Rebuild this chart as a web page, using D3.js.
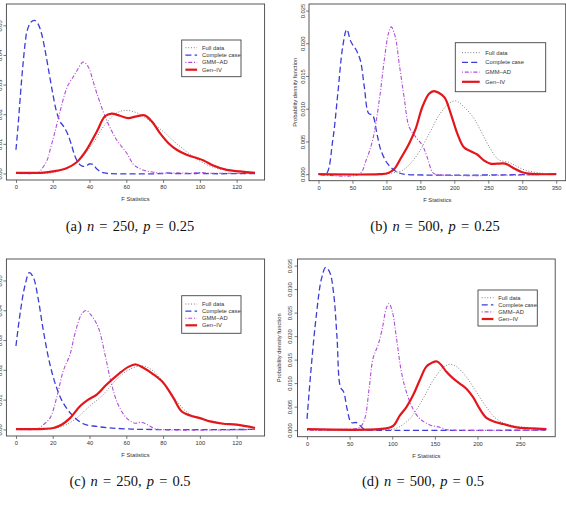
<!DOCTYPE html>
<html>
<head>
<meta charset="utf-8">
<script src="https://cdn.jsdelivr.net/npm/d3@7"></script>
<style>
  body { margin: 0; background: #fff; }
  svg { display: block; }
  .sans { font-family: "Liberation Sans", Arial, sans-serif; }
</style>
</head>
<body>
<svg id="fig" width="566" height="531"></svg>
<script>
// legend labels
const seriesNames = ["Full data", "Complete case", "GMM\u2212AD", "Gen\u2212IV"];

// ---- (a) n = 250, p = 0.25 : [F statistic, density]
const fullA = [[0,0],[10,0.0001],[20,0.0003],[25,0.0012],[30,0.0025],[35,0.0048],[42,0.0103],[49,0.017],[55,0.0205],[60,0.0213],[66,0.0204],[73,0.0176],[80,0.0142],[87,0.0103],[95,0.0063],[102,0.0035],[109,0.0018],[118,0.0009],[130,0.0003]];
const ccA = [[0,0.008],[1,0.015],[2,0.023],[3,0.031],[4,0.038],[5,0.044],[6,0.048],[8,0.051],[10,0.0517],[12,0.0505],[14,0.047],[16,0.041],[18,0.034],[20,0.027],[22,0.021],[24,0.0175],[26,0.0158],[28,0.0135],[30,0.010],[32,0.006],[34,0.0035],[36,0.0025],[38,0.0025],[40,0.0032],[42,0.003],[44,0.0015],[46,0.0006],[48,0.0002],[50,0],[80,0],[82,0.0002],[85,0],[98,0],[100,0.0002],[102,0],[130,0]];
const gmmA = [[0,0],[10,0],[12,0.0002],[14,0.0015],[17,0.0046],[19,0.009],[21,0.0136],[24,0.021],[26.6,0.027],[28.5,0.030],[31,0.0325],[33,0.0345],[36.6,0.0376],[39.3,0.036],[42,0.031],[44,0.027],[49.3,0.018],[54.7,0.0114],[60.2,0.0069],[64,0.003],[69,0.0012],[75,0.0004],[80,0.0001],[88,0.0002],[95,0.0001],[100,0.0003],[105,0.0001],[130,0.0001]];
const genA = [[0,0.0002],[10,0.0002],[15,0.0003],[20,0.0007],[27.5,0.0018],[33,0.0038],[38.4,0.008],[44,0.0142],[48.4,0.0193],[52,0.0202],[56.5,0.0195],[61,0.0187],[65.6,0.0193],[70,0.0196],[73.8,0.0176],[78.3,0.0136],[82.8,0.0103],[87.4,0.008],[92.8,0.0063],[98.2,0.0052],[102,0.0044],[107.3,0.0027],[114.6,0.0012],[121.8,0.0007],[130,0.0002]];

// ---- (b) n = 500, p = 0.25
const fullB = [[0,0],[100,0],[110,0.0002],[124,0.0006],[143,0.0026],[163,0.0062],[177.5,0.009],[192,0.0108],[202,0.0112],[214,0.0103],[229,0.0085],[241,0.0062],[253,0.0039],[265.5,0.0022],[280,0.0018],[290,0.0013],[304.6,0.0006],[324,0.0002],[350,0]];
const ccB = [[0,0],[11,0],[21,0.0052],[28.4,0.0123],[35.7,0.0195],[41.6,0.0221],[47.9,0.0202],[55.3,0.019],[61.6,0.0174],[67.5,0.0133],[73.8,0.0093],[79.7,0.009],[86,0.0062],[92,0.0036],[101.7,0.0016],[111.5,0.0006],[119,0.0002],[125,0],[350,0]];
const gmmB = [[0,0],[60,0],[70,0.0021],[79.7,0.0052],[89.5,0.0113],[96.8,0.0174],[103,0.0215],[107,0.0225],[113,0.021],[118.8,0.0169],[126,0.0118],[133.5,0.0072],[143,0.0057],[153,0.0044],[160,0.0026],[167.7,0.0003],[172,0],[350,0]];
const genB = [[0,0],[90,0],[101.7,0.00015],[111.5,0.0008],[121,0.0024],[133.5,0.0047],[143.3,0.007],[153,0.0103],[162.8,0.0123],[170,0.0127],[177.5,0.0124],[185.8,0.0117],[194.6,0.0093],[204.4,0.0062],[214,0.0041],[224,0.0035],[233.7,0.003],[243.5,0.0021],[253,0.0016],[263,0.0016],[275,0.0016],[287.5,0.0009],[300,0.0003],[314,0.00005],[350,0]];

// ---- (c) n = 250, p = 0.5
const fullC = [[0,0],[10,0.0001],[20,0.0003],[27,0.0015],[33,0.0038],[40,0.0078],[47.5,0.0117],[54.7,0.0168],[62,0.0202],[69,0.0213],[74.7,0.0196],[81,0.0151],[87.4,0.0095],[93.7,0.0055],[100,0.0038],[109,0.0025],[118,0.0016],[130,0.0007]];
const ccC = [[0,0.028],[2.2,0.0387],[4.9,0.0483],[7.25,0.0526],[9.4,0.0511],[12.1,0.0438],[14.9,0.0331],[18.5,0.0218],[22.1,0.014],[25.7,0.0089],[30.3,0.005],[36.6,0.0019],[44,0.001],[51,0.0005],[60,0.0002],[70,0],[130,0]];
const gmmC = [[0,0],[10,0],[12,0.0003],[14.9,0.0016],[18.5,0.0038],[22.1,0.0106],[25.7,0.0196],[29.4,0.0252],[32,0.032],[35.7,0.0387],[38.1,0.0399],[41.1,0.0382],[44.8,0.0342],[48.4,0.0252],[52,0.0151],[55.6,0.0083],[60.2,0.0038],[64.7,0.0021],[68.3,0.0024],[72,0.0014],[74.7,0.0005],[78,0],[130,0]];
const genC = [[0,0.0001],[10,0.0001],[15,0.0002],[20.3,0.0005],[24.8,0.0016],[29.4,0.0038],[34.8,0.0078],[39.3,0.01],[43.9,0.0117],[49.3,0.0151],[55.6,0.0185],[61.1,0.021],[65.3,0.0218],[69.2,0.0207],[74.7,0.0185],[80.1,0.0157],[85.6,0.0106],[90,0.0061],[94.6,0.0047],[100,0.0038],[105.5,0.0027],[112.7,0.0019],[120,0.0016],[130,0.0005]];

// ---- (d) n = 500, p = 0.5
const fullD = [[0,0],[95,0.0001],[105,0.0004],[120.5,0.0024],[136.2,0.0067],[148,0.0106],[159.6,0.0133],[167.5,0.014],[175.3,0.0135],[187,0.0113],[198.7,0.0081],[210.5,0.0049],[222.2,0.0024],[234,0.0013],[249.6,0.0007],[269,0.0004],[280,0.0002]];
const ccD = [[0,0.0024],[5.1,0.0138],[11,0.0246],[16.8,0.0321],[21.9,0.0346],[26.6,0.0336],[31.3,0.0289],[35.2,0.0196],[39.1,0.0092],[43,0.0081],[47,0.0045],[52,0.0016],[58,0.0016],[62.6,0.0009],[67.7,0.0001],[75,0],[280,0]];
const gmmD = [[0,0],[30,0],[40,0.0002],[50,0.0002],[62,0.0006],[67.7,0.0024],[72.8,0.0088],[77.5,0.0153],[83.3,0.0181],[88.4,0.0217],[93.1,0.026],[96.2,0.0269],[100,0.0253],[104.9,0.0196],[110.7,0.0124],[116.6,0.0081],[124.4,0.0045],[132,0.0025],[144,0.0011],[155.7,0.0006],[163.5,0.0001],[170,0],[280,0]];
const genD = [[0,0.0002],[90,0.0003],[101,0.0009],[108.8,0.0031],[116.6,0.0049],[124.4,0.0074],[132.2,0.0106],[140,0.0135],[147.1,0.0144],[152.6,0.0146],[157.7,0.0138],[163.5,0.0124],[171.4,0.011],[179.2,0.0099],[187,0.0088],[194.8,0.007],[202.7,0.0045],[210.5,0.0026],[218.3,0.0019],[230,0.0013],[245.7,0.0006],[261,0.0004],[281,0.0002]];

// tick values
const xTicksAC = [0, 20, 40, 60, 80, 100, 120];
const xTicksB = [0, 50, 100, 150, 200, 250, 300, 350];
const xTicksD = [0, 50, 100, 150, 200, 250];
const yTicksAC = [0, 0.01, 0.02, 0.03, 0.04, 0.05];
const yTicksB = [0, 0.005, 0.010, 0.015, 0.020, 0.025];
const yTicksD = [0, 0.005, 0.010, 0.015, 0.020, 0.025, 0.030, 0.035];

const captions = [
  ["(a) ", "n", " = 250, ", "p", " = 0.25"],
  ["(b) ", "n", " = 500, ", "p", " = 0.25"],
  ["(c) ", "n", " = 250, ", "p", " = 0.5"],
  ["(d) ", "n", " = 500, ", "p", " = 0.5"]
];

// line styles, same order as seriesNames
const styles = [
  {color: "#707070", width: 0.9, dash: "1,1.8"},
  {color: "#3c3cd8", width: 1.3, dash: "6,3.2"},
  {color: "#b04ed8", width: 1.1, dash: "1,1.8,4,1.8"},
  {color: "#e3161b", width: 2.2, dash: null}
];

const panels = [
  {series: [fullA, ccA, gmmA, genA], x0: 6.4, y0: 4, w: 258.2, h: 176, xlim: [0,130], ylim: [0,0.055],
   xt: xTicksAC, yt: yTicksAC, yf: ".2f", tl: -4.6, yl: -12,
   leg: {x: 175.3, y: 36, w: 59.3, h: 36.7, r0: 7.7, dy: 7.33, s0: 3.7, s1: 15.4, tx: 20.3},
   cap: {x: 130, y: 231}},
  {series: [fullB, ccB, gmmB, genB], x0: 309, y0: 4, w: 256.7, h: 176.7, xlim: [0,350], ylim: [0,0.025],
   xt: xTicksB, yt: yTicksB, yf: ".3f", tl: -4.4, yl: -12,
   leg: {x: 146.3, y: 38.7, w: 90.4, h: 49, r0: 10, dy: 9.7, s0: 6.7, s1: 24.4, tx: 30},
   cap: {x: 435, y: 231}},
  {series: [fullC, ccC, gmmC, genC], x0: 6.4, y0: 259, w: 258.2, h: 177, xlim: [0,130], ylim: [0,0.055],
   xt: xTicksAC, yt: yTicksAC, yf: ".2f", tl: -4.6, yl: -12,
   leg: {x: 175.3, y: 36.7, w: 59.3, h: 37.6, r0: 8.3, dy: 7.1, s0: 3.7, s1: 15.4, tx: 20.3},
   cap: {x: 130, y: 486}},
  {series: [fullD, ccD, gmmD, genD], x0: 297.5, y0: 259, w: 257.7, h: 177.7, xlim: [0,280], ylim: [0,0.035],
   xt: xTicksD, yt: yTicksD, yf: ".3f", tl: -5.6, yl: -16.5,
   leg: {x: 180.5, y: 31, w: 59.3, h: 36, r0: 7.7, dy: 7.1, s0: 3.7, s1: 15.4, tx: 20.3},
   cap: {x: 423, y: 486}}
];

const svg = d3.select("#fig");
const fs = 5.8;

// R-style range: limits padded by 4% each side
function padded(lim) {
  const d = (lim[1] - lim[0]) * 0.04;
  return [lim[0] - d, lim[1] + d];
}

panels.forEach((p, pi) => {
  const g = svg.append("g").attr("transform", "translate(" + p.x0 + "," + p.y0 + ")");

  const x = d3.scaleLinear().domain(padded(p.xlim)).range([0, p.w]);
  const y = d3.scaleLinear().domain(padded(p.ylim)).range([p.h, 0]);

  const clipId = "clip" + pi;
  g.append("clipPath").attr("id", clipId)
    .append("rect").attr("width", p.w).attr("height", p.h);

  const line = d3.line()
    .x(d => x(d[0]))
    .y(d => y(d[1]))
    .curve(d3.curveCatmullRom.alpha(0.5));

  const plot = g.append("g").attr("clip-path", "url(#" + clipId + ")");
  p.series.forEach((s, i) => {
    const st = styles[i];
    plot.append("path")
      .datum(s)
      .attr("d", line)
      .attr("fill", "none")
      .attr("stroke", st.color)
      .attr("stroke-width", st.width)
      .attr("stroke-dasharray", st.dash)
      .attr("stroke-linejoin", "round");
  });

  // axes
  const xAxis = g.append("g")
    .attr("class", "sans")
    .attr("transform", "translate(0," + p.h + ")")
    .call(d3.axisBottom(x).tickValues(p.xt).tickSize(3).tickPadding(2).tickSizeOuter(0));
  xAxis.selectAll("text").attr("font-size", fs).attr("fill", "#333");

  const yAxis = g.append("g")
    .attr("class", "sans")
    .call(d3.axisLeft(y).tickValues(p.yt).tickFormat(d3.format(p.yf)).tickSize(3).tickSizeOuter(0));
  yAxis.selectAll("text")
    .attr("font-size", fs).attr("fill", "#333")
    .attr("transform", "rotate(-90)")
    .attr("x", 0).attr("y", p.tl).attr("dy", null)
    .attr("text-anchor", "middle");

  [xAxis, yAxis].forEach(a => {
    a.select(".domain").remove();
    a.selectAll("line").attr("stroke", "#444").attr("stroke-width", 0.7);
  });

  g.append("rect")
    .attr("width", p.w).attr("height", p.h)
    .attr("fill", "none").attr("stroke", "#444").attr("stroke-width", 0.9);

  g.append("text").attr("class", "sans")
    .attr("x", p.w / 2).attr("y", p.h + 21)
    .attr("text-anchor", "middle").attr("font-size", fs).attr("fill", "#333")
    .text("F Statistics");

  g.append("text").attr("class", "sans")
    .attr("transform", "translate(" + p.yl + "," + (p.h / 2) + ") rotate(-90)")
    .attr("text-anchor", "middle").attr("font-size", fs).attr("fill", "#333")
    .text("Probability density function");

  // legend
  const L = p.leg;
  const lg = g.append("g").attr("transform", "translate(" + L.x + "," + L.y + ")");
  lg.append("rect").attr("width", L.w).attr("height", L.h)
    .attr("fill", "#fff").attr("stroke", "#444").attr("stroke-width", 0.9);
  seriesNames.forEach((name, i) => {
    const st = styles[i];
    const yy = L.r0 + i * L.dy;
    lg.append("line")
      .attr("x1", L.s0).attr("x2", L.s1).attr("y1", yy).attr("y2", yy)
      .attr("stroke", st.color).attr("stroke-width", st.width)
      .attr("stroke-dasharray", st.dash);
    lg.append("text").attr("class", "sans")
      .attr("x", L.tx).attr("y", yy).attr("dy", "0.35em")
      .attr("font-size", fs).attr("fill", "#333")
      .text(name);
  });

  // caption
  const cap = svg.append("text")
    .attr("x", p.cap.x).attr("y", p.cap.y)
    .attr("text-anchor", "middle")
    .attr("font-family", "'Liberation Serif', 'DejaVu Serif', serif")
    .attr("font-size", 14.5).attr("word-spacing", 1.5).attr("fill", "#111");
  captions[pi].forEach((part, k) => {
    cap.append("tspan").attr("font-style", k % 2 === 1 ? "italic" : "normal").text(part);
  });
});
</script>
</body>
</html>
